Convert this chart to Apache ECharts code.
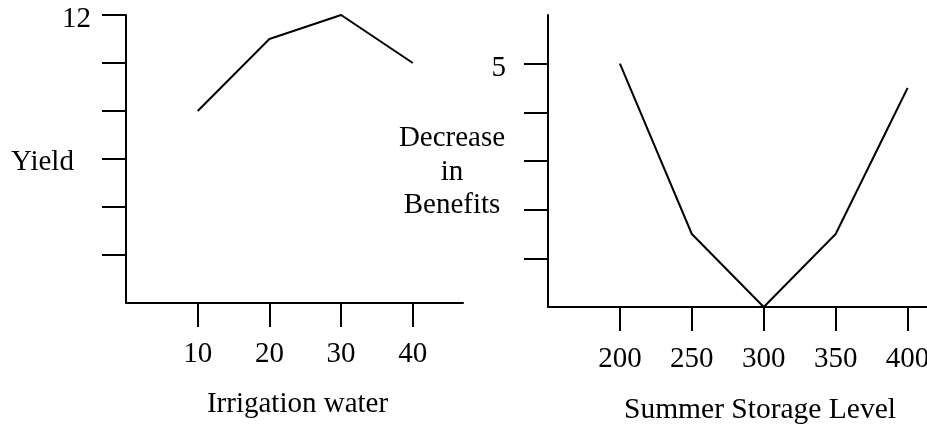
<!DOCTYPE html>
<html>
<head>
<meta charset="utf-8">
<script src="https://cdn.jsdelivr.net/npm/echarts@6/dist/echarts.min.js"></script>
<style>
html,body{margin:0;padding:0;background:#fff;}
#chart{width:927px;height:425px;}
</style>
</head>
<body>
<div id="chart"></div>
<script>
// Left chart: Yield vs Irrigation water
var irrigationWater = [10, 20, 30, 40];
var yieldValues = [8, 11, 12, 10];
var leftXTicks = [10, 20, 30, 40];
var leftYTicks = [2, 4, 6, 8, 10, 12];
var leftYLabels = [12];

// Right chart: Decrease in Benefits vs Summer Storage Level
var storageLevel = [200, 250, 300, 350, 400];
var benefitDecrease = [5, 1.5, 0, 1.5, 4.5];
var rightXTicks = [200, 250, 300, 350, 400];
var rightYTicks = [1, 2, 3, 4, 5];
var rightYLabels = [5];

var FONT = '"Liberation Serif", "Times New Roman", serif';
var FS = 29;

function pairs(xs, ys) { return xs.map(function (x, i) { return [x, ys[i]]; }); }

function xAxisCfg(idx, min, max, ticks, margin) {
  return {
    type: 'value', gridIndex: idx, min: min, max: max,
    axisLine: { show: true, onZero: false, lineStyle: { color: '#000', width: 2 } },
    axisTick: { show: true, length: 24, customValues: ticks, lineStyle: { color: '#000', width: 2 } },
    axisLabel: { show: true, customValues: ticks, margin: margin, verticalAlign: 'middle',
      hideOverlap: false, color: '#000', fontFamily: FONT, fontSize: FS },
    splitLine: { show: false }
  };
}
function yAxisCfg(idx, min, max, ticks, labels, margin, lh) {
  return {
    type: 'value', gridIndex: idx, min: min, max: max,
    axisLine: { show: true, onZero: false, lineStyle: { color: '#000', width: 2 } },
    axisTick: { show: true, length: 24, customValues: ticks, lineStyle: { color: '#000', width: 2 } },
    axisLabel: { show: true, customValues: labels, margin: margin, verticalAlign: 'top', lineHeight: lh,
      color: '#000', fontFamily: FONT, fontSize: FS },
    splitLine: { show: false }
  };
}

var chart = echarts.init(document.getElementById('chart'), null, { renderer: 'canvas' });
chart.setOption({
  backgroundColor: '#fff',
  animation: false,
  grid: [
    { left: 126, top: 15, width: 337, height: 288, containLabel: false, outerBoundsMode: 'none' },
    { left: 548, top: 15, width: 379, height: 292, containLabel: false, outerBoundsMode: 'none' }
  ],
  xAxis: [
    xAxisCfg(0, 0, 47, leftXTicks, 51),
    xAxisCfg(1, 150, 413.5, rightXTicks, 52)
  ],
  yAxis: [
    yAxisCfg(0, 0, 12, leftYTicks, leftYLabels, 35, 8),
    yAxisCfg(1, 0, 6, rightYTicks, rightYLabels, 42, 10)
  ],
  series: [
    { type: 'line', xAxisIndex: 0, yAxisIndex: 0, data: pairs(irrigationWater, yieldValues),
      showSymbol: false, symbol: 'none', clip: false,
      lineStyle: { color: '#000', width: 2 } },
    { type: 'line', xAxisIndex: 1, yAxisIndex: 1, data: pairs(storageLevel, benefitDecrease),
      showSymbol: false, symbol: 'none', clip: false,
      lineStyle: { color: '#000', width: 2 } }
  ],
  graphic: [
    { type: 'text', x: 42.5, y: 162, style: { text: 'Yield', fill: '#000', font: FS + 'px ' + FONT, textAlign: 'center', textVerticalAlign: 'middle' } },
    { type: 'text', x: 297.5, y: 404, style: { text: 'Irrigation water', fill: '#000', font: FS + 'px ' + FONT, textAlign: 'center', textVerticalAlign: 'middle' } },
    { type: 'text', x: 452, y: 138.5, style: { text: 'Decrease', fill: '#000', font: FS + 'px ' + FONT, textAlign: 'center', textVerticalAlign: 'middle' } },
    { type: 'text', x: 452, y: 172, style: { text: 'in', fill: '#000', font: FS + 'px ' + FONT, textAlign: 'center', textVerticalAlign: 'middle' } },
    { type: 'text', x: 452, y: 205.5, style: { text: 'Benefits', fill: '#000', font: FS + 'px ' + FONT, textAlign: 'center', textVerticalAlign: 'middle' } },
    { type: 'text', x: 760, y: 410, style: { text: 'Summer Storage Level', fill: '#000', font: '29.5px ' + FONT, textAlign: 'center', textVerticalAlign: 'middle' } }
  ]
});
</script>
</body>
</html>
